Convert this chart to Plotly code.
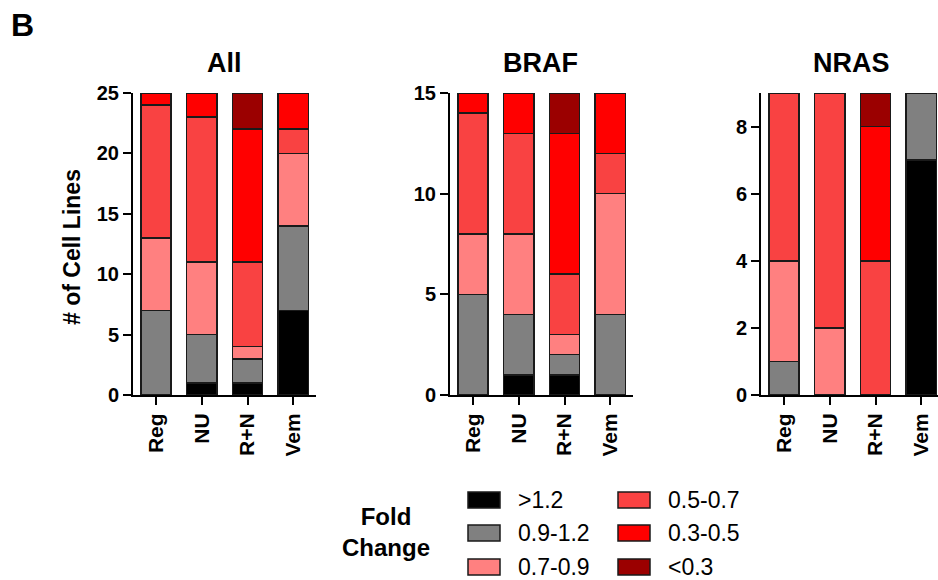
import plotly.graph_objects as go

W, H = 938, 580

categories = ["Reg", "NU", "R+N", "Vem"]
fold_classes = [">1.2", "0.9-1.2", "0.7-0.9", "0.5-0.7", "0.3-0.5", "<0.3"]
colors = ["#000000", "#808080", "#FF8080", "#F94242", "#FF0000", "#9B0000"]

# counts per fold class (rows) for each treatment (columns)
all_counts = [
    [0, 1, 1, 7],     # >1.2
    [7, 4, 2, 7],     # 0.9-1.2
    [6, 6, 1, 6],     # 0.7-0.9
    [11, 12, 7, 2],   # 0.5-0.7
    [1, 2, 11, 3],    # 0.3-0.5
    [0, 0, 3, 0],     # <0.3
]
braf_counts = [
    [0, 1, 1, 0],
    [5, 3, 1, 4],
    [3, 4, 1, 6],
    [6, 5, 3, 2],
    [1, 2, 7, 3],
    [0, 0, 2, 0],
]
nras_counts = [
    [0, 0, 0, 7],
    [1, 0, 0, 2],
    [3, 2, 0, 0],
    [5, 7, 4, 0],
    [0, 0, 4, 0],
    [0, 0, 1, 0],
]
panel_titles = ["All", "BRAF", "NRAS"]
panel_data = [all_counts, braf_counts, nras_counts]
y_max = [25, 15, 9]
y_dtick = [5, 5, 2]

FONT = "Arial, Liberation Sans, Helvetica, sans-serif"

def px(x):
    return x / W

def py(y):
    return 1 - y / H

# panel geometry (pixels)
x_left = [133, 450, 761]
unit = 45.8
y_top, y_bot = 93, 395

fig = go.Figure()

for p, counts in enumerate(panel_data):
    xa = "x" if p == 0 else f"x{p+1}"
    ya = "y" if p == 0 else f"y{p+1}"
    for k, name in enumerate(fold_classes):
        vals = [v if v != 0 else None for v in counts[k]]
        fig.add_trace(go.Bar(
            x=categories, y=vals, name=name,
            marker=dict(color=colors[k], line=dict(color="#1a1a1a", width=1.5)),
            width=0.66, xaxis=xa, yaxis=ya, showlegend=False,
            hoverinfo="x+y+name",
        ))

layout_axes = {}
for p in range(3):
    xl = x_left[p]
    xr = min(xl + 4 * unit, W)
    rng_hi = -0.5 + (xr - xl) / unit
    xname = "xaxis" if p == 0 else f"xaxis{p+1}"
    yname = "yaxis" if p == 0 else f"yaxis{p+1}"
    layout_axes[xname] = dict(
        domain=[px(xl), px(xr)], range=[-0.5, rng_hi],
        anchor="y" if p == 0 else f"y{p+1}",
        showline=True, linecolor="black", linewidth=2,
        ticks="outside", ticklen=8, tickwidth=2, tickcolor="black",
        tickangle=-90, showgrid=False, zeroline=False, automargin=False,
        tickfont=dict(family=FONT, size=21, color="black", weight="bold"),
        type="category", fixedrange=True,
    )
    layout_axes[yname] = dict(
        domain=[py(y_bot), py(y_top)], range=[0, y_max[p]],
        anchor="x" if p == 0 else f"x{p+1}",
        showline=True, linecolor="black", linewidth=2,
        ticks="outside", ticklen=8, tickwidth=2, tickcolor="black",
        dtick=y_dtick[p], tick0=0, showgrid=False, zeroline=False,
        automargin=False,
        tickfont=dict(family=FONT, size=20, color="black", weight="bold"),
        fixedrange=True,
    )

annotations = []
title_cx = [224, 540, 851]
for p, t in enumerate(panel_titles):
    annotations.append(dict(
        text=t, x=px(title_cx[p]), y=py(63), xref="paper", yref="paper",
        xanchor="center", yanchor="middle", showarrow=False,
        font=dict(family=FONT, size=27, color="black", weight="bold"),
    ))
annotations.append(dict(
    text="B", x=px(9), y=py(25), xref="paper", yref="paper",
    xanchor="left", yanchor="middle", showarrow=False,
    font=dict(family=FONT, size=32, color="black", weight="bold"),
))
annotations.append(dict(
    text="# of Cell Lines", x=px(72), y=py(247), xref="paper", yref="paper",
    xanchor="center", yanchor="middle", showarrow=False, textangle=-90,
    font=dict(family=FONT, size=23, color="black", weight="bold"),
))
annotations.append(dict(
    text="Fold<br>Change", x=px(386), y=py(532), xref="paper", yref="paper",
    xanchor="center", yanchor="middle", showarrow=False,
    font=dict(family=FONT, size=24, color="black", weight="bold"),
))

# legend (two columns of swatches + labels)
shapes = []
col_x = [468, 618]
row_y = [500, 533, 567]
for k, name in enumerate(fold_classes):
    c, r = divmod(k, 3)
    x0 = col_x[c]
    yc = row_y[r]
    shapes.append(dict(
        type="rect", xref="paper", yref="paper",
        x0=px(x0), x1=px(x0 + 32), y0=py(yc + 8), y1=py(yc - 8),
        fillcolor=colors[k], line=dict(color="#1a1a1a", width=1.5),
    ))
    annotations.append(dict(
        text=name, x=px(x0 + 48), y=py(yc), xref="paper", yref="paper",
        xanchor="left", yanchor="middle", showarrow=False,
        font=dict(family=FONT, size=23, color="black"),
    ))

fig.update_layout(
    width=W, height=H,
    margin=dict(l=0, r=0, t=0, b=0, autoexpand=False),
    paper_bgcolor="white", plot_bgcolor="white",
    barmode="stack", bargap=0.34,
    showlegend=False,
    annotations=annotations, shapes=shapes,
    **layout_axes,
)

fig.write_html("out.html")
